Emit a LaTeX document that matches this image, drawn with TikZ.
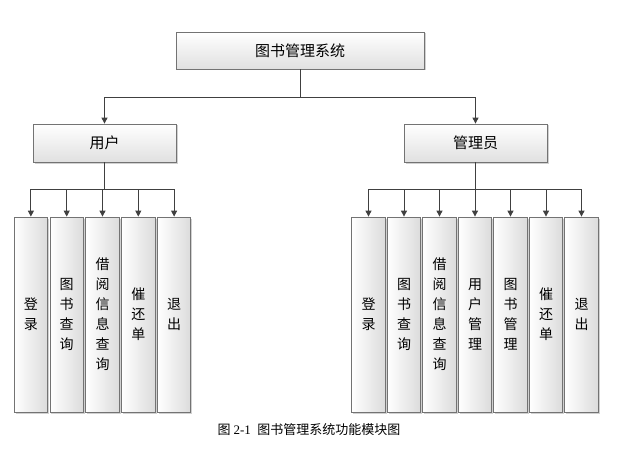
\documentclass[tikz,border=0pt]{standalone}
\usepackage{fontspec}
\newfontfamily\cjk{Noto Sans CJK SC}
\newfontfamily\tnr{Liberation Serif}
\usetikzlibrary{positioning,shadows,arrows.meta}

\begin{document}
\begin{tikzpicture}[x=1pt,y=-1pt,
            >={Triangle[length=6pt,width=6pt]},
            line/.style={draw=black!75, line width=1pt},
            basebox/.style={rectangle, draw=black!55, line width=0.8pt,
                drop shadow={shadow xshift=1.5pt, shadow yshift=-1.5pt, fill=black!30, opacity=0.6}},
            topbox/.style={basebox, top color=white, bottom color=black!12,
                minimum width=248pt, minimum height=37pt, font=\cjk\fontsize{15}{18}\selectfont},
            midbox/.style={basebox, top color=white, bottom color=black!12,
                minimum width=143pt, minimum height=38pt, font=\cjk\fontsize{15}{18}\selectfont},
            leafbox/.style={basebox, left color=white, right color=black!14,
                minimum width=33.5pt, minimum height=195pt, inner sep=0pt,
                align=center, font=\cjk\fontsize{14}{20}\selectfont},
        ]
        \useasboundingbox (0,0) rectangle (622,460);

        \node[topbox] (sys) at (300,50.5) {图书管理系统};
        \node[midbox] (user) at (104.5,143) {用户};
        \node[midbox] (admin) at (475.5,143) {管理员};

        % user functions
        \node[leafbox] (u3) at (102.5,314.5) {借\\阅\\信\\息\\查\\询};
        \node[leafbox] (u2) [left=1.5pt of u3] {图\\书\\查\\询};
        \node[leafbox] (u1) [left=1.5pt of u2] {登\\录};
        \node[leafbox] (u4) [right=1.5pt of u3] {催\\还\\单};
        \node[leafbox] (u5) [right=1.5pt of u4] {退\\出};

        % admin functions
        \node[leafbox] (a4) at (475,314.5) {用\\户\\管\\理};
        \node[leafbox] (a3) [left=1.2pt of a4] {借\\阅\\信\\息\\查\\询};
        \node[leafbox] (a2) [left=1.2pt of a3] {图\\书\\查\\询};
        \node[leafbox] (a1) [left=1.2pt of a2] {登\\录};
        \node[leafbox] (a5) [right=1.2pt of a4] {图\\书\\管\\理};
        \node[leafbox] (a6) [right=1.2pt of a5] {催\\还\\单};
        \node[leafbox] (a7) [right=1.2pt of a6] {退\\出};

        \draw[line,->] (sys.south) -- ++(0,28) -| (user.north);
        \draw[line,->] (sys.south) -- ++(0,28) -| (admin.north);

        \foreach \i in {1,...,5}
            \draw[line,->] (user.south) -- ++(0,27) -| (u\i.north);
        \foreach \i in {1,...,7}
            \draw[line,->] (admin.south) -- ++(0,27) -| (a\i.north);

        \node[font=\cjk\fontsize{13}{16}\selectfont] (cap) at (309,430)
            {图 {\tnr 2-1}\enspace 图书管理系统功能模块图};
\end{tikzpicture}
\end{document}
